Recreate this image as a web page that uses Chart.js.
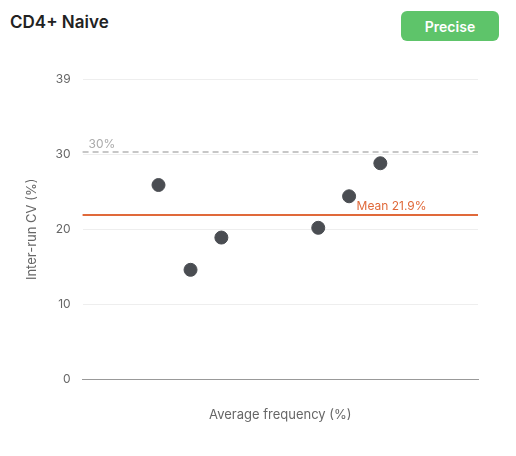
<!DOCTYPE html>
<html><head><meta charset="utf-8">
<script src="https://cdn.jsdelivr.net/npm/chart.js@4"></script>
<style>
body{margin:0;background:#fff;font-family:Inter,"Noto Sans",sans-serif;width:516px;height:456px;position:relative;overflow:hidden}
#title{position:absolute;left:10px;top:12px;font-size:17px;font-weight:600;color:#222}
#badge{position:absolute;left:401px;top:11px;width:98px;height:30px;border-radius:6px;background:#5ec46a;color:#fff;font-size:14px;font-weight:600;display:flex;align-items:center;justify-content:center}
#wrap{position:absolute;left:0;top:60px;width:500px;height:380px}
</style></head><body>
<div id="title">CD4+ Naive</div>
<div id="badge">Precise</div>
<div id="wrap"><canvas id="c"></canvas></div>
<script>
const xValues=[19.2,27.3,35.1,59.6,67.4,75.3];
const cvValues=[25.9,14.6,18.9,20.2,24.4,28.8];
const meanCV=21.9;
const threshold=30.3;
const yTicks=[0,10,20,30,40];
const yTickLabels=["0","10","20","30","39"];
const refLines={id:'ref',afterDatasetsDraw(ch){
 const {ctx,chartArea:a,scales:{y}}=ch;
 ctx.save();
 let yt=y.getPixelForValue(threshold);
 ctx.strokeStyle='#b5b5b5';ctx.lineWidth=1.5;ctx.setLineDash([6,4]);
 ctx.beginPath();ctx.moveTo(a.left,yt);ctx.lineTo(a.right,yt);ctx.stroke();
 ctx.setLineDash([]);ctx.fillStyle='#aaa';ctx.font='12px Inter, sans-serif';ctx.textBaseline='bottom';
 ctx.fillText('30%',a.left+6,yt-2);
 let ym=y.getPixelForValue(meanCV);
 ctx.strokeStyle='#e0693a';ctx.lineWidth=2;
 ctx.beginPath();ctx.moveTo(a.left,ym);ctx.lineTo(a.right,ym);ctx.stroke();
 ctx.fillStyle='#e0693a';ctx.fillText('Mean '+meanCV+'%',a.left+274,ym-3);
 ctx.restore();
}};
new Chart(document.getElementById('c'),{type:'scatter',
 data:{datasets:[{data:xValues.map((x,i)=>({x,y:cvValues[i]})),backgroundColor:'#4a4d52',borderColor:'#4a4d52',pointRadius:6.5,pointHoverRadius:6.5}]},
 options:{responsive:true,maintainAspectRatio:false,animation:false,
  layout:{padding:{left:20,right:22,top:8,bottom:13}},
  plugins:{legend:{display:false},tooltip:{enabled:false}},
  scales:{
   x:{min:0,max:100,ticks:{display:false},grid:{display:false},border:{color:'#999'},
      title:{display:true,text:'Average frequency (%)',color:'#666',font:{size:13,family:'Inter'},padding:{top:20}}},
   y:{min:0,max:40,afterBuildTicks(s){s.ticks=yTicks.map(v=>({value:v}));},
      ticks:{color:'#666',font:{size:12,family:'Inter'},padding:12,callback:(v)=>yTickLabels[yTicks.indexOf(v)]},
      grid:{color:'#eee',drawTicks:false},border:{display:false},
      title:{display:true,text:'Inter-run CV (%)',color:'#666',font:{size:13,family:'Inter'}}}
  }},plugins:[refLines]});
</script></body></html>
